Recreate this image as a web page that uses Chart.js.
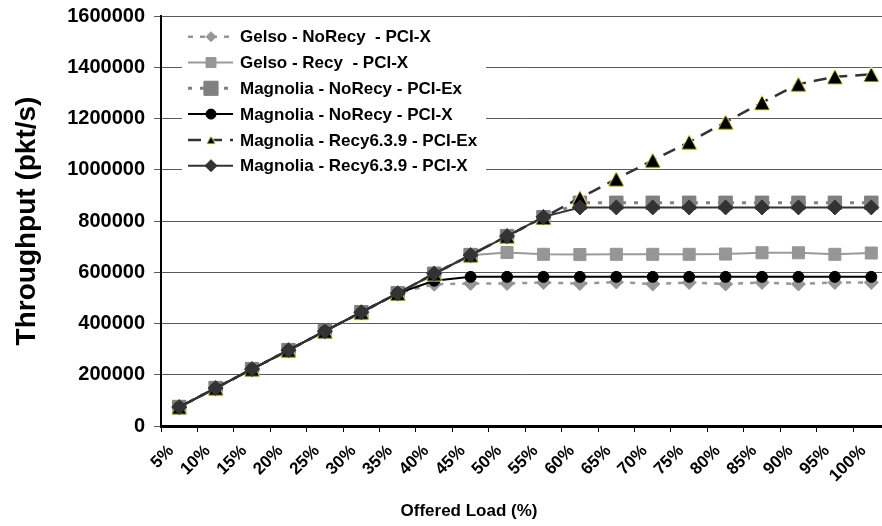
<!DOCTYPE html>
<html>
<head>
<meta charset="utf-8">
<script src="https://cdn.jsdelivr.net/npm/chart.js@4/dist/chart.umd.min.js"></script>
<style>
  html, body { margin: 0; padding: 0; background: #fff; overflow: hidden; }
  #wrap { width: 882px; height: 526px; overflow: hidden; position: relative; }
  canvas { display: block; }
</style>
</head>
<body>
<div id="wrap"><canvas id="chart" width="900" height="526" style="width:900px;height:526px"></canvas></div>
<script>
// Offered load categories
const categories = ['5%', '10%', '15%', '20%', '25%', '30%', '35%', '40%', '45%', '50%',
  '55%', '60%', '65%', '70%', '75%', '80%', '85%', '90%', '95%', '100%'];

// Throughput in packets per second, one array per configuration
const gelsoNoRecyPciX = [74000, 148000, 222000, 296000, 370000, 444000, 518000, 553000, 556000, 556000,
  560000, 556000, 562000, 554000, 560000, 554000, 560000, 554000, 560000, 560000];
const gelsoRecyPciX = [74000, 148000, 222000, 296000, 370000, 444000, 518000, 594000, 666000, 677000,
  670000, 669000, 670000, 670000, 670000, 671000, 676000, 676000, 670000, 675000];
const magnoliaNoRecyPciEx = [74000, 148000, 222000, 296000, 370000, 444000, 518000, 594000, 667000, 741000,
  815000, 871000, 871000, 871000, 871000, 871000, 871000, 871000, 871000, 871000];
const magnoliaNoRecyPciX = [74000, 148000, 222000, 296000, 370000, 444000, 518000, 567000, 582000, 582000,
  582000, 582000, 582000, 582000, 582000, 582000, 582000, 582000, 582000, 582000];
const magnoliaRecyPciEx = [74000, 148000, 222000, 296000, 370000, 444000, 518000, 594000, 667000, 741000,
  814000, 890000, 964000, 1037000, 1108000, 1186000, 1262000, 1334000, 1363000, 1372000];
const magnoliaRecyPciX = [74000, 148000, 222000, 296000, 370000, 444000, 518000, 595000, 667000, 741000,
  816000, 853000, 853000, 853000, 853000, 853000, 853000, 853000, 853000, 853000];

// Y axis tick values
const yTicks = [0, 200000, 400000, 600000, 800000, 1000000, 1200000, 1400000, 1600000];

const seriesNames = [
  'Gelso - NoRecy  - PCI-X',
  'Gelso - Recy  - PCI-X',
  'Magnolia - NoRecy - PCI-Ex',
  'Magnolia - NoRecy - PCI-X',
  'Magnolia - Recy6.3.9 - PCI-Ex',
  'Magnolia - Recy6.3.9 - PCI-X'
];

// Black triangle with a pale yellow edge, centred on its bounding box
function triangleMarker(w, h) {
  const c = document.createElement('canvas');
  c.width = w + 2;
  c.height = h + 2;
  const g = c.getContext('2d');
  g.beginPath();
  g.moveTo(1, h + 1);
  g.lineTo(w + 1, h + 1);
  g.lineTo(w / 2 + 1, 1);
  g.closePath();
  g.fillStyle = '#000000';
  g.fill();
  g.strokeStyle = '#ffff8c';
  g.lineWidth = 1;
  g.stroke();
  return c;
}
const bigTriangle = triangleMarker(16, 15);
const smallTriangle = triangleMarker(9, 8);

const styles = [
  { color: '#969696', fill: '#969696', edge: '#969696', dash: [5, 7], width: 2.5, point: 'rectRot', lpoint: 'rectRot', r: 7, lr: 5 },
  { color: '#9a9a9a', fill: '#969696', edge: '#969696', dash: [], width: 2, point: 'rect', lpoint: 'rect', r: 8.5, lr: 7 },
  { color: '#808080', fill: '#808080', edge: '#808080', dash: [4, 8], width: 3, point: 'rect', lpoint: 'rect', r: 9.5, lr: 10 },
  { color: '#000000', fill: '#000000', edge: '#000000', dash: [], width: 2, point: 'circle', lpoint: 'circle', r: 5.5, lr: 5 },
  { color: '#333333', fill: '#000000', edge: '#ffff8c', dash: [13, 8], width: 2.5, point: bigTriangle, lpoint: smallTriangle, r: 8, lr: 5 },
  { color: '#333333', fill: '#333333', edge: '#333333', dash: [], width: 2, point: 'rectRot', lpoint: 'rectRot', r: 7.5, lr: 6 }
];

const seriesValues = [gelsoNoRecyPciX, gelsoRecyPciX, magnoliaNoRecyPciEx,
  magnoliaNoRecyPciX, magnoliaRecyPciEx, magnoliaRecyPciX];

const datasets = seriesValues.map((vals, i) => ({
  label: seriesNames[i],
  data: vals,
  borderColor: styles[i].color,
  borderWidth: styles[i].width,
  borderDash: styles[i].dash,
  pointStyle: styles[i].point,
  pointRadius: styles[i].r,
  pointBackgroundColor: styles[i].fill,
  pointBorderColor: styles[i].edge,
  pointBorderWidth: 1,
  legendPointStyle: styles[i].lpoint,
  legendRadius: styles[i].lr,
  tension: 0,
  fill: false,
  order: seriesValues.length - 1 - i  // later series are drawn on top
}));

// Legend box drawn inside the plot, over the grid
const insideLegend = {
  id: 'insideLegend',
  beforeDatasetsDraw(chart) {
    const { ctx, chartArea } = chart;
    const x0 = chartArea.left + 21;
    const y0 = chartArea.top + 8;
    ctx.save();
    ctx.fillStyle = '#ffffff';
    ctx.fillRect(x0, y0, 304, 154);
    chart.data.datasets.forEach((ds, i) => {
      const y = chartArea.top + 20.7 + i * 25.8;
      ctx.beginPath();
      ctx.strokeStyle = ds.borderColor;
      ctx.lineWidth = ds.borderWidth;
      ctx.setLineDash(ds.borderDash);
      ctx.moveTo(x0 + 6, y);
      ctx.lineTo(x0 + 51, y);
      ctx.stroke();
      ctx.setLineDash([]);
      ctx.fillStyle = ds.pointBackgroundColor;
      ctx.strokeStyle = ds.pointBorderColor;
      ctx.lineWidth = 1;
      Chart.helpers.drawPoint(ctx, { pointStyle: ds.legendPointStyle, radius: ds.legendRadius, rotation: 0, borderWidth: 1 }, x0 + 29, y);
      ctx.fillStyle = '#000';
      ctx.font = 'bold 17px "Liberation Sans", Arial, sans-serif';
      ctx.textBaseline = 'middle';
      ctx.textAlign = 'left';
      ctx.fillText(ds.label, x0 + 58, y + 1);
    });
    ctx.restore();
  }
};

// X axis title
const xTitle = {
  id: 'xTitle',
  afterDraw(chart) {
    const { ctx, chartArea } = chart;
    ctx.save();
    ctx.fillStyle = '#000';
    ctx.font = 'bold 17px "Liberation Sans", Arial, sans-serif';
    ctx.textAlign = 'center';
    ctx.textBaseline = 'middle';
    ctx.fillText('Offered Load (%)', chartArea.left + 308, 511);
    ctx.restore();
  }
};

new Chart(document.getElementById('chart'), {
  type: 'line',
  data: { labels: categories, datasets },
  plugins: [insideLegend, xTitle],
  options: {
    responsive: false,
    animation: false,
    layout: { padding: { left: 0, right: 7, top: 16, bottom: 0 } },
    plugins: { legend: { display: false }, tooltip: { enabled: false } },
    scales: {
      x: {
        type: 'category',
        offset: true,
        afterFit(scale) {
          scale.height = 100;
          scale.paddingLeft = 0;
          scale.paddingRight = 0;
        },
        border: { display: true, color: '#000', width: 3 },
        grid: { display: true, drawOnChartArea: false, drawTicks: true, offset: true, tickLength: 6, color: '#000', lineWidth: 1 },
        ticks: {
          color: '#000',
          font: { family: '"Liberation Sans", Arial, sans-serif', size: 17, weight: 'bold' },
          minRotation: 45, maxRotation: 45,
          autoSkip: false,
          padding: 9,
          labelOffset: -8
        }
      },
      y: {
        min: 0,
        max: 1600000,
        afterFit(scale) {
          scale.width = 161;
          scale.paddingTop = 0;
          scale.paddingBottom = 0;
        },
        afterBuildTicks(scale) { scale.ticks = yTicks.map(v => ({ value: v })); },
        border: { display: true, color: '#000', width: 2 },
        grid: { color: '#5a5a5a', lineWidth: 1, drawTicks: true, tickLength: 7, tickColor: '#5a5a5a' },
        ticks: {
          color: '#000',
          font: { family: '"Liberation Sans", Arial, sans-serif', size: 20, weight: 'bold' },
          padding: 9,
          callback: v => String(v)
        },
        title: {
          display: true,
          text: 'Throughput (pkt/s)',
          color: '#000',
          font: { family: '"Liberation Sans", Arial, sans-serif', size: 28, weight: 'bold' },
          padding: { top: 10, bottom: 0 }
        }
      }
    }
  }
});
</script>
</body>
</html>
